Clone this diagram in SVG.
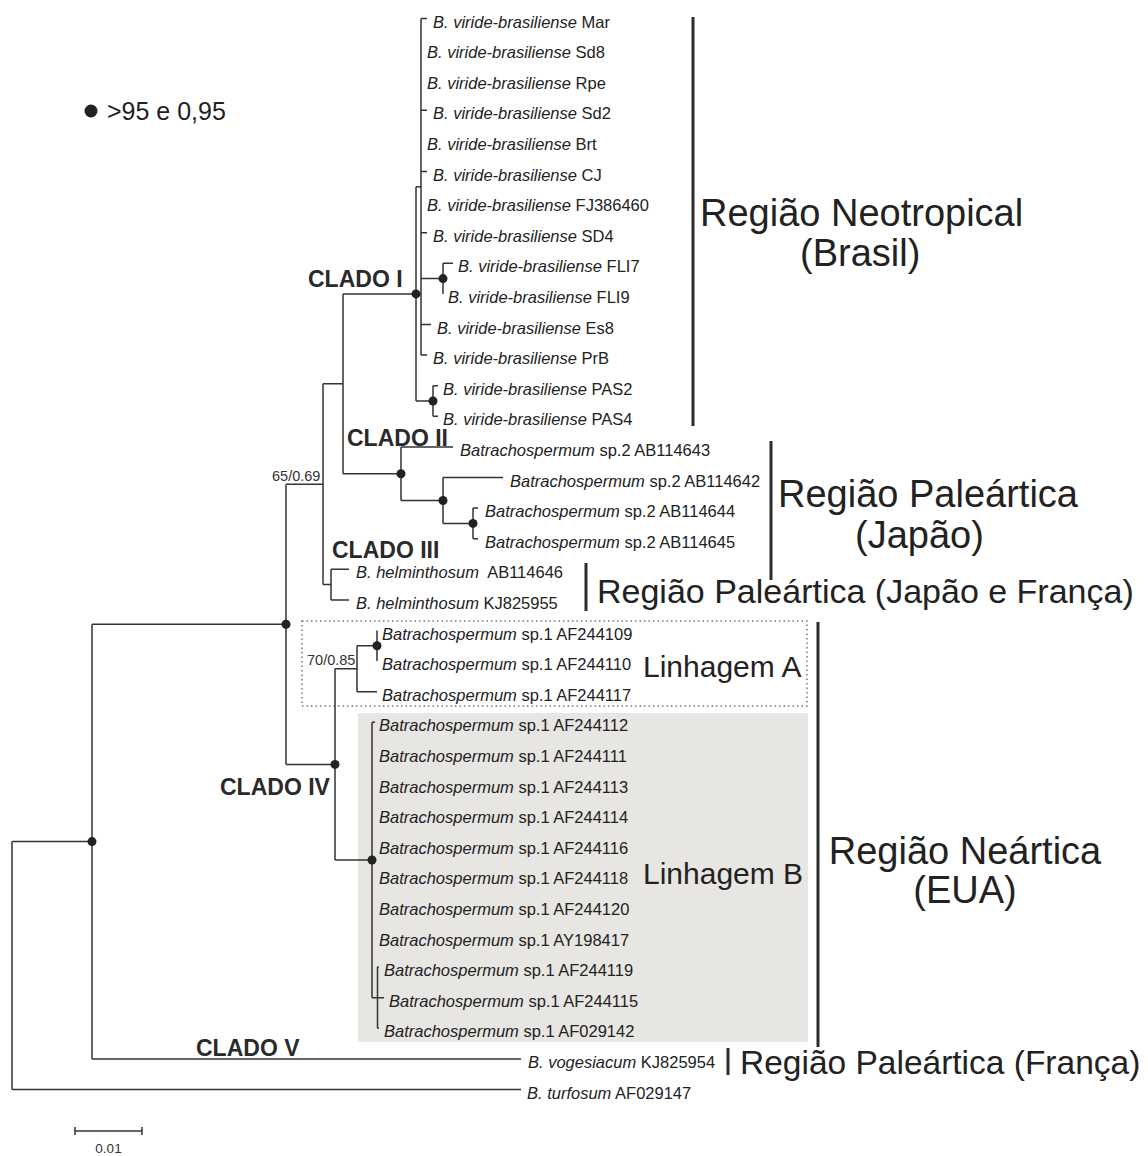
<svg xmlns="http://www.w3.org/2000/svg" width="1148" height="1156" viewBox="0 0 1148 1156">
<style>
.leaf{font-family:"Liberation Sans",Arial,sans-serif;font-size:16.5px;fill:#222}
.it{font-style:italic}
.clado{font-family:"Liberation Sans",Arial,sans-serif;font-size:23px;font-weight:bold;fill:#2a2a2a}
.reg{font-family:"Liberation Sans",Arial,sans-serif;font-size:38px;fill:#222}
.reg2{font-family:"Liberation Sans",Arial,sans-serif;font-size:34px;fill:#222}
.lin{font-family:"Liberation Sans",Arial,sans-serif;font-size:30px;fill:#222}
.sup{font-family:"Liberation Sans",Arial,sans-serif;font-size:14.5px;fill:#333}
.br{fill:none;stroke:#333;stroke-width:1.5}
.bar{stroke:#2b2b2b;stroke-width:3}
.dot{fill:#222}
</style>
<rect width="1148" height="1156" fill="#fff"/>

<!-- shaded / dotted boxes -->
<rect id="box-linhagemB" x="358" y="713" width="450" height="329" fill="#e8e6e3"/>
<rect id="box-linhagemA" x="302" y="621" width="505" height="85" fill="none" stroke="#777" stroke-width="1.5" stroke-dasharray="1.5,3"/>

<!-- legend -->
<g id="legend">
<circle cx="91" cy="111" r="6.5" class="dot"/>
<text x="107" y="120" style="font-family:'Liberation Sans',Arial,sans-serif;font-size:25px;fill:#222">&gt;95 e 0,95</text>
</g>

<!-- connectors (tree branches) -->
<g id="connectors" class="br">
<path d="M421 18.5V355.1M421 18.5H427M421 110.3H427M421 171.5H427M421 232.7H427M421 324.5H431M421 355.1H427"/>
<path d="M421 278.6H443M443 263.3V293.9M443 263.3H453"/>
<path d="M416 186.8H421M433 385.7V416.3M433 385.7H438M433 416.3H438M416 401H433M416 186.8V401M343 293.9H416"/>
<path d="M401 446.9H453M443 477.5H503M473 508.1V538.7M473 508.1H478M473 538.7H478M443 523.4H473M443 477.5V523.4M401 500.45H443M401 446.9V500.45M343 473.7H401M343 293.9V473.7M323 383.8H343"/>
<path d="M331 569.3V599.9M331 569.3H349M331 599.9H349M323 584.6H331M323 383.8V584.6M286 484.2H323"/>
<path d="M377 630.5V661.1M357 691.7H377M357 645.8V691.7M357 645.8H377M335 668.75H357"/>
<path d="M377.5 967.1V1028.3M377.5 967.1H379M372 997.7H384M377.5 1028.3H379M372 722.3V997.7M372 722.3H375M335 860H372M335 668.75V860M286 764.4H335M286 484.2V764.4M92 624.3H286"/>
<path d="M92 624.3V1058.9M92 1058.9H521M12 841.6H92M12 841.6V1089.5M12 1089.5H521"/>
</g>

<!-- support dots -->
<g id="support-dots" class="dot">
<circle cx="416" cy="293.9" r="4.5"/>
<circle cx="443" cy="278.6" r="4.5"/>
<circle cx="433" cy="401" r="4.5"/>
<circle cx="401" cy="473.7" r="4.5"/>
<circle cx="443" cy="500.45" r="4.5"/>
<circle cx="473" cy="523.4" r="4.5"/>
<circle cx="377" cy="645.8" r="4.5"/>
<circle cx="372" cy="860" r="4.5"/>
<circle cx="335" cy="764.4" r="4.5"/>
<circle cx="286" cy="624.3" r="4.5"/>
<circle cx="92" cy="841.6" r="4.5"/>
</g>

<!-- support values -->
<g id="support-values">
<text class="sup" x="272" y="481">65/0.69</text>
<text class="sup" x="307" y="665">70/0.85</text>
</g>

<!-- clade labels -->
<g id="clade-labels">
<text class="clado" x="308" y="287">CLADO I</text>
<text class="clado" x="347" y="446">CLADO II</text>
<text class="clado" x="332" y="558">CLADO III</text>
<text class="clado" x="220" y="795">CLADO IV</text>
<text class="clado" x="196" y="1056">CLADO V</text>
</g>

<!-- leaves -->
<g id="leaves" class="leaf">
<g id="leaf-Mar"><text x="433" y="27.5"><tspan class="it">B. viride-brasiliense</tspan> Mar</text></g>
<g id="leaf-Sd8"><text x="427" y="58.1"><tspan class="it">B. viride-brasiliense</tspan> Sd8</text></g>
<g id="leaf-Rpe"><text x="427" y="88.7"><tspan class="it">B. viride-brasiliense</tspan> Rpe</text></g>
<g id="leaf-Sd2"><text x="433" y="119.3"><tspan class="it">B. viride-brasiliense</tspan> Sd2</text></g>
<g id="leaf-Brt"><text x="427" y="149.9"><tspan class="it">B. viride-brasiliense</tspan> Brt</text></g>
<g id="leaf-CJ"><text x="433" y="180.5"><tspan class="it">B. viride-brasiliense</tspan> CJ</text></g>
<g id="leaf-FJ386460"><text x="427" y="211.1"><tspan class="it">B. viride-brasiliense</tspan> FJ386460</text></g>
<g id="leaf-SD4"><text x="433" y="241.7"><tspan class="it">B. viride-brasiliense</tspan> SD4</text></g>
<g id="leaf-FLI7"><text x="458" y="272.3"><tspan class="it">B. viride-brasiliense</tspan> FLI7</text></g>
<g id="leaf-FLI9"><text x="448" y="302.9"><tspan class="it">B. viride-brasiliense</tspan> FLI9</text></g>
<g id="leaf-Es8"><text x="437" y="333.5"><tspan class="it">B. viride-brasiliense</tspan> Es8</text></g>
<g id="leaf-PrB"><text x="433" y="364.1"><tspan class="it">B. viride-brasiliense</tspan> PrB</text></g>
<g id="leaf-PAS2"><text x="443" y="394.7"><tspan class="it">B. viride-brasiliense</tspan> PAS2</text></g>
<g id="leaf-PAS4"><text x="443" y="425.3"><tspan class="it">B. viride-brasiliense</tspan> PAS4</text></g>
<g id="leaf-AB114643"><text x="460" y="455.9"><tspan class="it">Batrachospermum</tspan> sp.2 AB114643</text></g>
<g id="leaf-AB114642"><text x="510" y="486.5"><tspan class="it">Batrachospermum</tspan> sp.2 AB114642</text></g>
<g id="leaf-AB114644"><text x="485" y="517.1"><tspan class="it">Batrachospermum</tspan> sp.2 AB114644</text></g>
<g id="leaf-AB114645"><text x="485" y="547.7"><tspan class="it">Batrachospermum</tspan> sp.2 AB114645</text></g>
<g id="leaf-AB114646"><text x="356" y="578.3" xml:space="preserve"><tspan class="it">B. helminthosum</tspan>  AB114646</text></g>
<g id="leaf-KJ825955"><text x="356" y="608.9"><tspan class="it">B. helminthosum</tspan> KJ825955</text></g>
<g id="leaf-AF244109"><text x="382" y="639.5"><tspan class="it">Batrachospermum</tspan> sp.1 AF244109</text></g>
<g id="leaf-AF244110"><text x="382" y="670.1"><tspan class="it">Batrachospermum</tspan> sp.1 AF244110</text></g>
<g id="leaf-AF244117"><text x="382" y="700.7"><tspan class="it">Batrachospermum</tspan> sp.1 AF244117</text></g>
<g id="leaf-AF244112"><text x="379" y="731.3"><tspan class="it">Batrachospermum</tspan> sp.1 AF244112</text></g>
<g id="leaf-AF244111"><text x="379" y="761.9"><tspan class="it">Batrachospermum</tspan> sp.1 AF244111</text></g>
<g id="leaf-AF244113"><text x="379" y="792.5"><tspan class="it">Batrachospermum</tspan> sp.1 AF244113</text></g>
<g id="leaf-AF244114"><text x="379" y="823.1"><tspan class="it">Batrachospermum</tspan> sp.1 AF244114</text></g>
<g id="leaf-AF244116"><text x="379" y="853.7"><tspan class="it">Batrachospermum</tspan> sp.1 AF244116</text></g>
<g id="leaf-AF244118"><text x="379" y="884.3"><tspan class="it">Batrachospermum</tspan> sp.1 AF244118</text></g>
<g id="leaf-AF244120"><text x="379" y="914.9"><tspan class="it">Batrachospermum</tspan> sp.1 AF244120</text></g>
<g id="leaf-AY198417"><text x="379" y="945.5"><tspan class="it">Batrachospermum</tspan> sp.1 AY198417</text></g>
<g id="leaf-AF244119"><text x="384" y="976.1"><tspan class="it">Batrachospermum</tspan> sp.1 AF244119</text></g>
<g id="leaf-AF244115"><text x="389" y="1006.7"><tspan class="it">Batrachospermum</tspan> sp.1 AF244115</text></g>
<g id="leaf-AF029142"><text x="384" y="1037.3"><tspan class="it">Batrachospermum</tspan> sp.1 AF029142</text></g>
<g id="leaf-KJ825954"><text x="528" y="1067.9"><tspan class="it">B. vogesiacum</tspan> KJ825954</text></g>
<g id="leaf-AF029147"><text x="527" y="1098.5"><tspan class="it">B. turfosum</tspan> AF029147</text></g>
</g>

<!-- lineage labels -->
<g id="lineage-labels">
<text class="lin" x="643" y="677">Linhagem A</text>
<text class="lin" x="643" y="884">Linhagem B</text>
</g>

<!-- region bars and labels -->
<g id="region-neotropical">
<line class="bar" x1="693" y1="17" x2="693" y2="426"/>
<text class="reg" x="700" y="226">Região Neotropical</text>
<text class="reg" x="800" y="266">(Brasil)</text>
</g>
<g id="region-paleartica-japao">
<line class="bar" x1="771" y1="441" x2="771" y2="580"/>
<text class="reg" x="778" y="507">Região Paleártica</text>
<text class="reg" x="855" y="548">(Japão)</text>
</g>
<g id="region-paleartica-japao-franca">
<line class="bar" x1="586" y1="563" x2="586" y2="611"/>
<text class="reg2" x="597" y="603">Região Paleártica (Japão e França)</text>
</g>
<g id="region-neartica">
<line class="bar" x1="818" y1="622" x2="818" y2="1047"/>
<text class="reg" x="965" y="864" text-anchor="middle">Região Neártica</text>
<text class="reg" x="965" y="903" text-anchor="middle">(EUA)</text>
</g>
<g id="region-paleartica-franca">
<line class="bar" x1="728" y1="1048" x2="728" y2="1075"/>
<text class="reg2" x="740" y="1074" style="font-size:33.5px">Região Paleártica (França)</text>
</g>

<!-- scale bar -->
<g id="scale-bar">
<path class="br" d="M75 1131H142M75 1127V1135M142 1127V1135"/>
<text x="108.5" y="1153" text-anchor="middle" style="font-family:'Liberation Sans',Arial,sans-serif;font-size:13.5px;fill:#333">0.01</text>
</g>
</svg>
